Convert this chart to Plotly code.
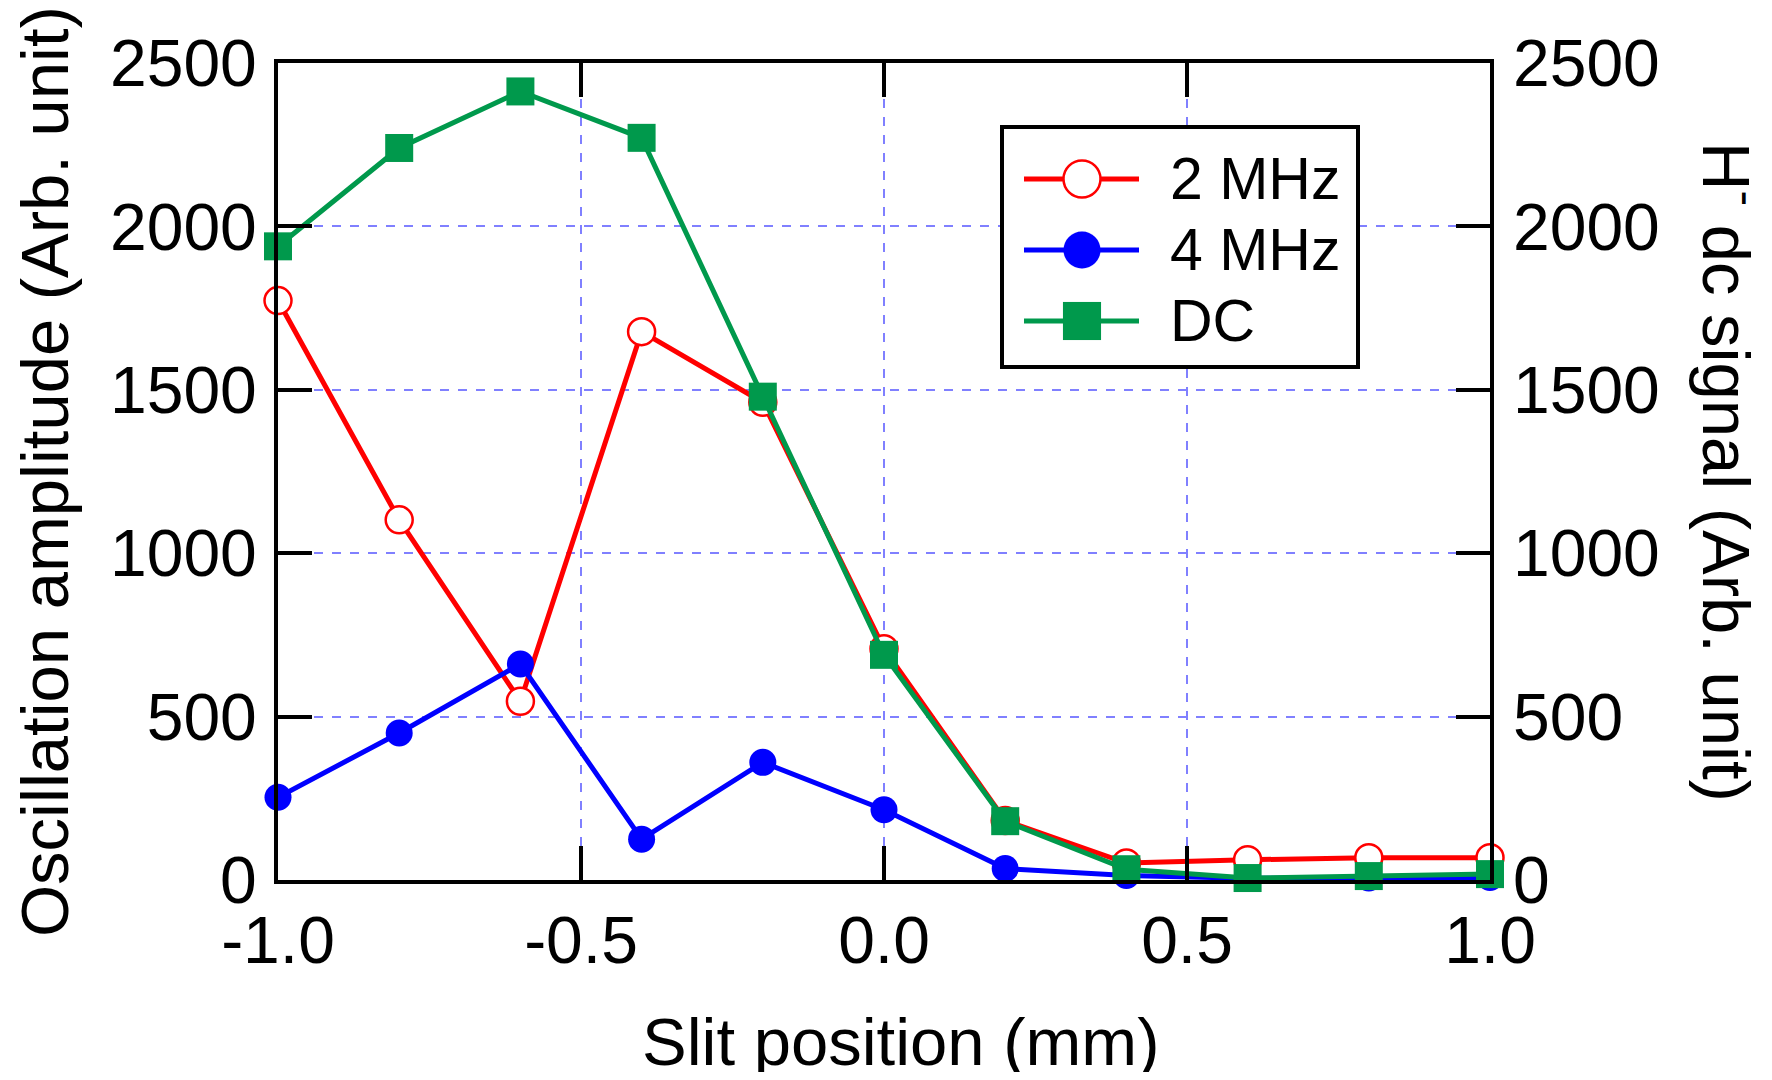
import plotly.graph_objects as go

# ---- data ----
slit_pos = [-1.0, -0.8, -0.6, -0.4, -0.2, 0.0, 0.2, 0.4, 0.6, 0.8, 1.0]
amp_2mhz = [1773, 1102, 547, 1678, 1462, 708, 182, 52, 62, 68, 68]
amp_4mhz = [253, 450, 661, 125, 360, 215, 35, 14, 5, 6, 8]
dc_signal = [1939, 2240, 2413, 2271, 1479, 689, 180, 33, 6, 12, 18]

x_tickvals = [-1.0, -0.5, 0.0, 0.5, 1.0]
x_ticktext = ["-1.0", "-0.5", "0.0", "0.5", "1.0"]
y_tickvals = [0, 500, 1000, 1500, 2000, 2500]
y_ticktext = ["0", "500", "1000", "1500", "2000", "2500"]

series_names = ["2 MHz", "4 MHz", "DC"]

RED = "#ff0000"
BLUE = "#0000ff"
GREEN = "#00994c"
GRID = "#8080ff"
FONT = "Arial, Liberation Sans, sans-serif"

OFF = 8  # default page body margin
W, H = 1772 - 2 * OFF, 1080 - 2 * OFF
# plot area bounds in page pixels
PL, PR, PT, PB = 278, 1490, 63, 880
L, R, T, B = PL - OFF, PR - OFF, PT - OFF, PB - OFF


def px_x(p):
    return (p - OFF - L) / (R - L)


def px_y(p):
    return (B - (p - OFF)) / (B - T)


fig = go.Figure()

fig.add_trace(go.Scatter(
    x=slit_pos, y=amp_2mhz, name=series_names[0], mode="lines+markers",
    line=dict(color=RED, width=5),
    marker=dict(symbol="circle", size=27, color="white", line=dict(color=RED, width=2.5)),
    cliponaxis=False, showlegend=False))

fig.add_trace(go.Scatter(
    x=slit_pos, y=amp_4mhz, name=series_names[1], mode="lines+markers",
    line=dict(color=BLUE, width=5),
    marker=dict(symbol="circle", size=27, color=BLUE, line=dict(width=0)),
    cliponaxis=False, showlegend=False))

fig.add_trace(go.Scatter(
    x=slit_pos, y=dc_signal, name=series_names[2], mode="lines+markers",
    yaxis="y2",
    line=dict(color=GREEN, width=5),
    marker=dict(symbol="square", size=28, color=GREEN, line=dict(width=0)),
    cliponaxis=False, showlegend=False))

axis_common = dict(
    showline=True, linewidth=4, linecolor="black",
    ticks="inside", ticklen=34, tickwidth=4, tickcolor="black",
    showgrid=True, gridcolor=GRID, griddash="dash", gridwidth=1.5,
    zeroline=False,
    tickfont=dict(family=FONT, size=66, color="black"),
)

fig.update_layout(
    width=W, height=H,
    margin=dict(l=L, r=W - R, t=T, b=H - B, autoexpand=False),
    plot_bgcolor="white", paper_bgcolor="white",
    font=dict(family=FONT, color="black"),
    xaxis=dict(range=[-1.0, 1.0], tickvals=x_tickvals, ticktext=x_ticktext,
               mirror="ticks", ticklabelstandoff=0, **axis_common),
    yaxis=dict(range=[0, 2500], tickvals=y_tickvals, ticktext=y_ticktext,
               mirror="ticks", ticklabelstandoff=4, **axis_common),
    yaxis2=dict(range=[0, 2500], tickvals=y_tickvals, ticktext=y_ticktext,
                overlaying="y", side="right", showline=False, showgrid=False,
                zeroline=False, ticks="", ticklabelstandoff=22,
                tickfont=dict(family=FONT, size=66, color="black")),
    showlegend=False,
)

# ---- axis titles ----
fig.add_annotation(text="Slit position (mm)", xref="paper", yref="paper",
                   x=px_x(900), y=px_y(1041), xanchor="center", yanchor="middle",
                   showarrow=False, font=dict(family=FONT, size=67, color="black"))
fig.add_annotation(text="Oscillation amplitude (Arb. unit)", xref="paper", yref="paper",
                   x=px_x(45), y=px_y(472), xanchor="center", yanchor="middle",
                   textangle=-90, showarrow=False,
                   font=dict(family=FONT, size=67, color="black"))
fig.add_annotation(text="H<sup>-</sup> dc signal (Arb. unit)", xref="paper", yref="paper",
                   x=px_x(1731), y=px_y(472), xanchor="center", yanchor="middle",
                   textangle=90, showarrow=False,
                   font=dict(family=FONT, size=67, color="black"))

# ---- legend (manual) ----
box = dict(x0=1002, x1=1358, y0=127, y1=367)
fig.add_shape(type="rect", xref="paper", yref="paper",
              x0=px_x(box["x0"]), x1=px_x(box["x1"]),
              y0=px_y(box["y1"]), y1=px_y(box["y0"]),
              line=dict(color="black", width=4), fillcolor="white", layer="above")

rows_y = [179, 250, 321]
line_x0, line_x1, mk_x, text_x = 1024, 1139, 1082, 1168
legend_styles = [
    dict(color=RED, kind="circle", fill="white", mline=RED, lw=2.5, size=37),
    dict(color=BLUE, kind="circle", fill=BLUE, mline=BLUE, lw=0, size=37),
    dict(color=GREEN, kind="rect", fill=GREEN, mline=GREEN, lw=0, size=38),
]
for name, ry, st in zip(series_names, rows_y, legend_styles):
    fig.add_shape(type="line", xref="paper", yref="paper",
                  x0=px_x(line_x0), x1=px_x(line_x1), y0=px_y(ry), y1=px_y(ry),
                  line=dict(color=st["color"], width=5), layer="above")
    h = st["size"] / 2
    fig.add_shape(type=st["kind"], xref="paper", yref="paper",
                  x0=px_x(mk_x - h), x1=px_x(mk_x + h),
                  y0=px_y(ry + h), y1=px_y(ry - h),
                  fillcolor=st["fill"],
                  line=dict(color=st["mline"], width=st["lw"] if st["lw"] else 0.1),
                  layer="above")
    fig.add_annotation(text=name, xref="paper", yref="paper",
                       x=px_x(text_x), y=px_y(ry), xanchor="left", yanchor="middle",
                       showarrow=False, font=dict(family=FONT, size=59, color="black"))

fig.write_html("out.html")
